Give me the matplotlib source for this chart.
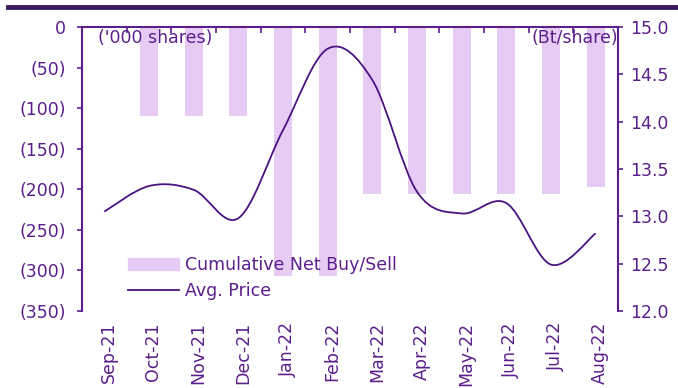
import numpy as np
import matplotlib.pyplot as plt
from matplotlib.path import Path
from matplotlib.patches import PathPatch, Rectangle
from matplotlib.lines import Line2D

months = ['Sep-21', 'Oct-21', 'Nov-21', 'Dec-21', 'Jan-22', 'Feb-22',
          'Mar-22', 'Apr-22', 'May-22', 'Jun-22', 'Jul-22', 'Aug-22']
net_buy_sell = [0, -110, -110, -110, -307, -307, -206, -206, -206, -206, -206, -197]
avg_price = [13.05, 13.32, 13.28, 12.98, 13.91, 14.77, 14.44, 13.26, 13.03, 13.14, 12.49, 12.82]

txt = '#5b1f8c'
bar_c = '#e6ccf5'
line_c = '#4a1380'
fs = 12.5

plt.rcParams['font.family'] = 'DejaVu Sans'

fig = plt.figure(figsize=(6.78, 3.88), dpi=100)
ax = fig.add_axes([0.1209, 0.1985, 0.9115 - 0.1209, 0.9304 - 0.1985])
ax2 = ax.twinx()

x = np.arange(len(months))
ax.bar(x, net_buy_sell, width=0.4, color=bar_c, zorder=1)
ax.set_xlim(-0.5, len(months) - 0.5)
ax.set_ylim(-350, 0)
ax.set_yticks(np.arange(-350, 1, 50))
ax.set_yticklabels(['0' if v == 0 else '(%d)' % -v for v in np.arange(-350, 1, 50)])

# smoothed price line: cubic bezier through each point (catmull-rom tangents)
pts = np.column_stack([x, avg_price]).astype(float)
verts = [pts[0]]
codes = [Path.MOVETO]
n = len(pts)
for i in range(n - 1):
    p0 = pts[max(i - 1, 0)]
    p1 = pts[i]
    p2 = pts[i + 1]
    p3 = pts[min(i + 2, n - 1)]
    c1 = p1 + (p2 - p0) / 6.0
    c2 = p2 - (p3 - p1) / 6.0
    verts += [c1, c2, p2]
    codes += [Path.CURVE4] * 3
ax2.add_patch(PathPatch(Path(verts, codes), facecolor='none', edgecolor=line_c, lw=1.3, zorder=3))
ax2.set_ylim(12.0, 15.0)
ax2.set_yticks(np.arange(12.0, 15.01, 0.5))
ax2.set_yticklabels(['%.1f' % v for v in np.arange(12.0, 15.01, 0.5)])

# category axis sits at zero (top), labels underneath
ax.set_xticks(np.arange(-0.5, len(months) - 0.5, 1), minor=False)
ax.set_xticklabels([])
ax.tick_params(axis='x', which='major', direction='in', top=True, bottom=False,
               length=4.5, width=1.2, color=txt)
ax.set_xticks(x + 0.1, minor=True)
ax.set_xticklabels(months, minor=True, rotation=90, color=txt, fontsize=fs)
ax.tick_params(axis='x', which='minor', length=0, pad=8)

for a in (ax, ax2):
    a.spines['bottom'].set_visible(False)
    for s in ('left', 'right', 'top'):
        a.spines[s].set_color(txt)
        a.spines[s].set_linewidth(1.5)
ax2.spines['left'].set_visible(False)
ax2.spines['top'].set_visible(False)
ax.spines['right'].set_visible(False)

ax.tick_params(axis='y', direction='out', length=3.5, width=1.2, color=txt,
               labelcolor=txt, labelsize=fs, pad=8)
ax2.tick_params(axis='y', direction='out', length=3.5, width=1.2, color=txt,
                labelcolor=txt, labelsize=fs, pad=5)

ax.text(0.03, 0.993, "('000 shares)", transform=ax.transAxes, color=txt,
        fontsize=fs, ha='left', va='top')
ax.text(1.0, 0.993, "(Bt/share)", transform=ax.transAxes, color=txt,
        fontsize=fs, ha='right', va='top', zorder=5)

handles = [Rectangle((0, 0), 1, 1, color=bar_c), Line2D([], [], color=line_c, lw=1.3)]
leg = ax2.legend(handles, ['Cumulative Net Buy/Sell', 'Avg. Price'],
                 loc='upper left', bbox_to_anchor=(0.07, 0.225), frameon=False,
                 fontsize=fs, handlelength=2.9, handletextpad=0.4,
                 labelspacing=0.5, borderpad=0)
for t in leg.get_texts():
    t.set_color(txt)

# dark band across the top
fig.add_artist(Line2D([8 / 678, 1.0], [1 - 7 / 388, 1 - 7 / 388],
                      transform=fig.transFigure, color='#3a1b5c', lw=3.5))

fig.savefig('out.png', dpi=100)
